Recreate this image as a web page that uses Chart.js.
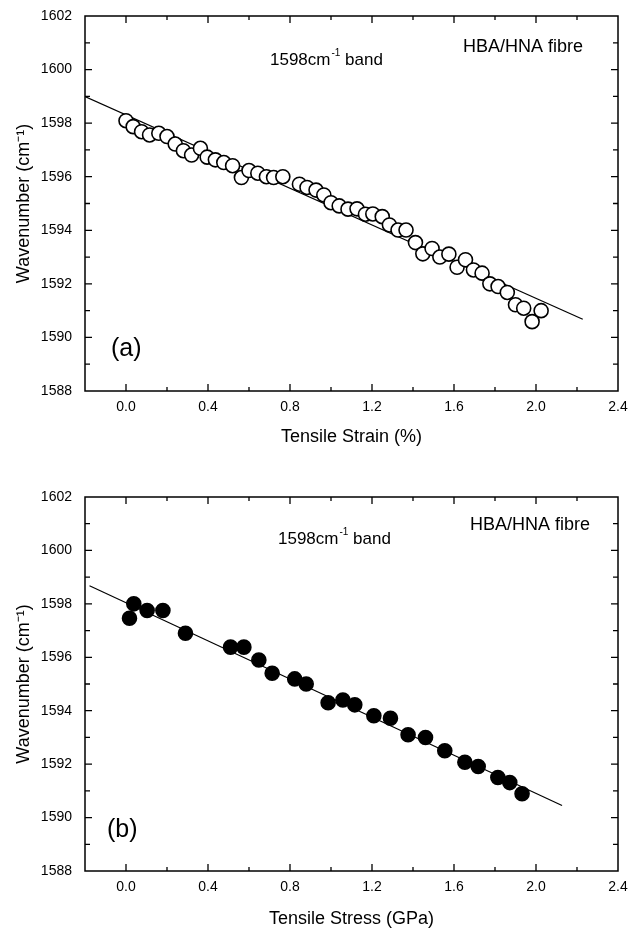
<!DOCTYPE html>
<html>
<head>
<meta charset="utf-8">
<script src="https://cdn.jsdelivr.net/npm/chart.js@4.4.1/dist/chart.umd.min.js"></script>
<style>
  html, body { margin: 0; padding: 0; background: #fff; }
  #wrap { position: relative; width: 632px; height: 930px; }
  canvas { position: absolute; left: 0; }
</style>
</head>
<body>
<div id="wrap">
  <canvas id="chartA" width="632" height="465" style="top:0"></canvas>
  <canvas id="chartB" width="632" height="465" style="top:465px"></canvas>
</div>
<script>
// -------- DATA --------
const strainPct = [0.00, 0.035, 0.076, 0.115, 0.16, 0.20, 0.24, 0.28, 0.32, 0.363,
  0.396, 0.436, 0.477, 0.52, 0.563, 0.60, 0.643, 0.685, 0.72, 0.765,
  0.846, 0.883, 0.927, 0.965, 1.00, 1.04, 1.083, 1.127, 1.168, 1.204,
  1.25, 1.285, 1.327, 1.366, 1.412, 1.448, 1.493, 1.531, 1.575, 1.615,
  1.656, 1.695, 1.737, 1.775, 1.815, 1.86, 1.90, 1.94, 1.981, 2.025];
const strainWave = [1598.09, 1597.87, 1597.68, 1597.56, 1597.62, 1597.50, 1597.22, 1596.97, 1596.81, 1597.06,
  1596.73, 1596.63, 1596.53, 1596.41, 1595.97, 1596.23, 1596.13, 1596.00, 1595.97, 1596.00,
  1595.72, 1595.60, 1595.50, 1595.32, 1595.03, 1594.91, 1594.79, 1594.80, 1594.60, 1594.61,
  1594.51, 1594.20, 1594.01, 1594.01, 1593.54, 1593.12, 1593.32, 1593.00, 1593.11, 1592.62,
  1592.90, 1592.52, 1592.40, 1592.00, 1591.90, 1591.68, 1591.22, 1591.09, 1590.59, 1591.00];
const strainFitX = [-0.2, 2.228];
const strainFitY = [1598.99, 1590.68];

const stressGPa = [0.017, 0.038, 0.103, 0.18, 0.29, 0.51, 0.575, 0.648, 0.713, 0.823,
  0.879, 0.986, 1.058, 1.116, 1.209, 1.29, 1.376, 1.461, 1.555, 1.653,
  1.718, 1.814, 1.872, 1.932];
const stressWave = [1597.46, 1598.00, 1597.75, 1597.75, 1596.90, 1596.38, 1596.38, 1595.90, 1595.40, 1595.19,
  1595.00, 1594.30, 1594.40, 1594.22, 1593.81, 1593.72, 1593.10, 1593.00, 1592.50, 1592.07,
  1591.91, 1591.50, 1591.31, 1590.89];
const stressFitX = [-0.178, 2.127];
const stressFitY = [1598.68, 1590.45];

const xRange = [-0.2, 2.4];
const yRange = [1588, 1602];

const FONT = '"Liberation Sans", Arial, Helvetica, sans-serif';
Chart.defaults.font.family = FONT;
Chart.defaults.color = '#000';

function pts(xs, ys){ return xs.map((x, i) => ({ x, y: ys[i] })); }
function isMajorX(v){ return v > -1e-6 && Math.abs(Math.round(v / 0.4) * 0.4 - v) < 1e-6; }
function isMajorY(v){ return Math.abs(v % 2) < 1e-6; }

// inward ticks on all four sides + frame + text labels
const framePlugin = {
  id: 'frame',
  afterDraw(chart){
    const { ctx, chartArea: a, scales: { x, y } } = chart;
    const o = chart.options.plugins.frame;
    ctx.save();
    ctx.strokeStyle = '#000';
    ctx.lineWidth = 1.5;
    ctx.strokeRect(a.left, a.top, a.right - a.left, a.bottom - a.top);
    ctx.lineWidth = 1.3;
    ctx.beginPath();
    x.ticks.forEach(t => {
      const px = x.getPixelForValue(t.value);
      if (px <= a.left + 1 || px >= a.right - 1) return;
      const len = isMajorX(t.value) ? 7 : 4;
      ctx.moveTo(px, a.bottom); ctx.lineTo(px, a.bottom - len);
      ctx.moveTo(px, a.top); ctx.lineTo(px, a.top + len);
    });
    y.ticks.forEach(t => {
      const py = y.getPixelForValue(t.value);
      if (py <= a.top + 1 || py >= a.bottom - 1) return;
      const len = isMajorY(t.value) ? 7 : 5;
      ctx.moveTo(a.left, py); ctx.lineTo(a.left + len, py);
      ctx.moveTo(a.right, py); ctx.lineTo(a.right - len, py);
    });
    ctx.stroke();

    // annotations
    ctx.fillStyle = '#000';
    ctx.textBaseline = 'middle';
    ctx.textAlign = 'left';
    const bx = a.left + o.band[0], by = a.top + o.band[1];
    ctx.font = '17px ' + FONT;
    ctx.fillText(o.bandText, bx, by);
    const w1 = ctx.measureText(o.bandText).width;
    ctx.font = '10px ' + FONT;
    ctx.fillText(o.bandSup, bx + w1 + 1, by - 7);
    const w2 = ctx.measureText(o.bandSup).width;
    ctx.font = '17px ' + FONT;
    ctx.fillText(o.bandTail, bx + w1 + w2 + 1, by);
    ctx.font = '18px ' + FONT;
    ctx.fillText(o.sample, a.left + o.samplePos[0], a.top + o.samplePos[1]);
    ctx.font = '25px ' + FONT;
    ctx.fillText(o.panel, a.left + o.panelPos[0], a.top + o.panelPos[1]);
    ctx.restore();
  }
};

function makeChart(id, cfg){
  return new Chart(document.getElementById(id), {
    type: 'scatter',
    data: {
      datasets: [
        {
          data: pts(cfg.xs, cfg.ys),
          pointStyle: 'circle',
          pointRadius: 7,
          pointBorderWidth: 1.6,
          pointBorderColor: '#000',
          pointBackgroundColor: cfg.fill,
        },
        {
          data: pts(cfg.fitX, cfg.fitY),
          showLine: true,
          pointRadius: 0,
          borderColor: '#000',
          borderWidth: 1.2,
        }
      ]
    },
    options: {
      responsive: false,
      animation: false,
      layout: { padding: { top: cfg.padTop, right: 14, left: 0, bottom: 0 } },
      plugins: {
        legend: { display: false },
        tooltip: { enabled: false },
        frame: cfg.frame
      },
      scales: {
        x: {
          type: 'linear', min: xRange[0], max: xRange[1],
          grid: { display: false, drawTicks: false },
          border: { display: false },
          ticks: {
            stepSize: 0.2, autoSkip: false, maxRotation: 0, padding: 8,
            font: { size: 14 },
            callback: v => isMajorX(v) ? Math.abs(v).toFixed(1) : ''
          },
          title: { display: true, text: cfg.xTitle, font: { size: 18 }, padding: { top: 0, bottom: cfg.xTitlePad } },
          afterFit: s => { s.height = cfg.xHeight; s.paddingLeft = 0; s.paddingRight = 0; }
        },
        y: {
          type: 'linear', min: yRange[0], max: yRange[1],
          grid: { display: false, drawTicks: false },
          border: { display: false },
          ticks: {
            stepSize: 1, autoSkip: false, padding: 13,
            font: { size: 14 },
            callback: v => isMajorY(v) ? String(v) : ''
          },
          title: { display: true, text: 'Wavenumber (cm\u207B\u00B9)', font: { size: 18 }, padding: { top: 13, bottom: 0 } },
          afterFit: s => { s.width = 85; s.paddingTop = 0; s.paddingBottom = 0; }
        }
      }
    },
    plugins: [framePlugin]
  });
}

makeChart('chartA', {
  xs: strainPct, ys: strainWave, fitX: strainFitX, fitY: strainFitY,
  fill: '#fff', padTop: 16, xHeight: 74, xTitlePad: 17,
  xTitle: 'Tensile Strain (%)',
  frame: { bandText: '1598cm', bandSup: '-1', bandTail: ' band', band: [185, 44],
           sample: 'HBA/HNA fibre', samplePos: [378, 31], panel: '(a)', panelPos: [26, 333] }
});

makeChart('chartB', {
  xs: stressGPa, ys: stressWave, fitX: stressFitX, fitY: stressFitY,
  fill: '#000', padTop: 32, xHeight: 59, xTitlePad: 0,
  xTitle: 'Tensile Stress (GPa)',
  frame: { bandText: '1598cm', bandSup: '-1', bandTail: ' band', band: [193, 42],
           sample: 'HBA/HNA fibre', samplePos: [385, 28], panel: '(b)', panelPos: [22, 333] }
});
</script>
</body>
</html>
